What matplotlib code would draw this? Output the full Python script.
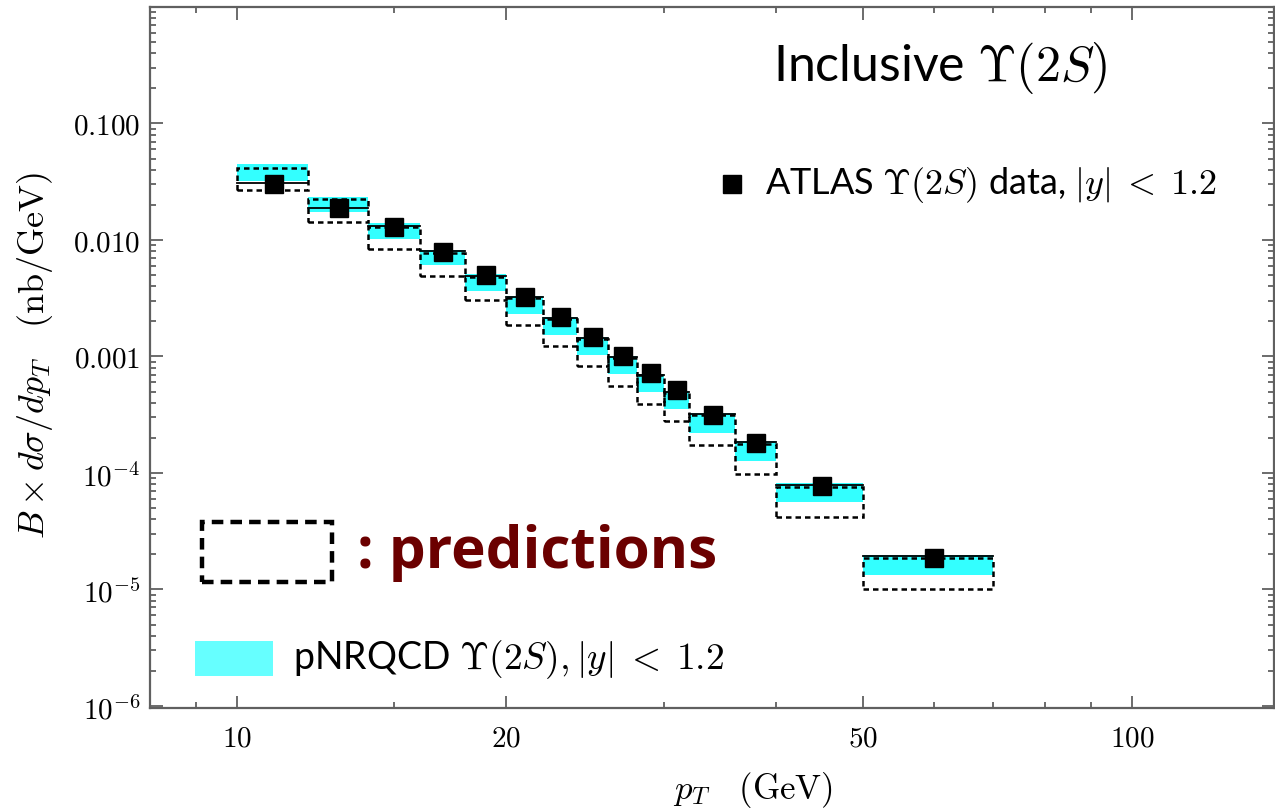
import matplotlib
matplotlib.use("Agg")
import matplotlib.pyplot as plt
from matplotlib.patches import Rectangle
from matplotlib.ticker import FixedLocator, FixedFormatter, LogLocator, NullFormatter

plt.rcParams["mathtext.fontset"] = "cm"
plt.rcParams["font.family"] = ["Lato", "DejaVu Sans"]

# pT bins (GeV)
pt_lo = [10, 12, 14, 16, 18, 20, 22, 24, 26, 28, 30, 32, 36, 40, 50]
pt_hi = [12, 14, 16, 18, 20, 22, 24, 26, 28, 30, 32, 36, 40, 50, 70]
pt_mid = [11, 13, 15, 17, 19, 21, 23, 25, 27, 29, 31, 34, 38, 45, 60]

# ATLAS Upsilon(2S) data, nb/GeV
atlas = [0.0303, 0.0190, 0.01285, 0.00796, 0.00501, 0.00324, 0.00217, 0.00148,
         0.00101, 0.00072, 0.000511, 0.000315, 0.000182, 7.78e-5, 1.85e-5]

# pNRQCD band (cyan)
band_hi = [0.0445, 0.0233, 0.01387, 0.00828, 0.00506, 0.00330, 0.00219, 0.001476,
           0.001014, 0.000714, 0.000504, 0.000324, 0.000188, 8.24e-5, 1.99e-5]
band_lo = [0.0320, 0.0173, 0.0101, 0.00604, 0.00363, 0.00230, 0.00152, 0.001026,
           0.000710, 0.000498, 0.000356, 0.000221, 0.000126, 5.66e-5, 1.33e-5]

# predictions (dashed boxes)
pred_hi = [0.0411, 0.0226, 0.0130, 0.00776, 0.00480, 0.00315, 0.00211, 0.00142,
           0.000975, 0.000687, 0.000484, 0.000312, 0.000179, 7.62e-5, 1.85e-5]
pred_lo = [0.0271, 0.0144, 0.0084, 0.00489, 0.00303, 0.00188, 0.00123, 0.000826,
           0.000556, 0.000393, 0.000279, 0.000173, 9.84e-5, 4.21e-5, 1.01e-5]
pred_mid = [0.0310, 0.0190, 0.0133, 0.0080, 0.00492, 0.00322, 0.00215, 0.00145,
            0.000995, 0.000700, 0.000494, 0.000318, 0.000184, 7.9e-5, 1.92e-5]

x_major = [10, 20, 50, 100]
x_minor = [9, 15, 30, 40, 60, 70, 80, 90]
y_major = [1e-6, 1e-5, 1e-4, 1e-3, 1e-2, 1e-1]
y_labels = [r"$10^{-6}$", r"$10^{-5}$", r"$10^{-4}$", r"$0.001$", r"$0.010$", r"$0.100$"]

CYAN = "#33ffff"
AX_GRAY = "#606060"

fig = plt.figure(figsize=(12.75, 8.12), dpi=100)
ax = fig.add_axes([150 / 1275, 1 - 709 / 812, 1124 / 1275, 701 / 812])
ax.set_xscale("log")
ax.set_yscale("log")
ax.set_xlim(8, 144)
ax.set_ylim(9.6e-7, 1.0)

for lo, hi, blo, bhi, plo, phi, pm in zip(pt_lo, pt_hi, band_lo, band_hi,
                                           pred_lo, pred_hi, pred_mid):
    ax.fill_between([lo, hi], blo, bhi, color=CYAN, lw=0, zorder=1)
    ax.plot([lo, hi], [pm, pm], color="black", lw=1.3, zorder=2)
    ax.add_patch(Rectangle((lo, plo), hi - lo, phi - plo, fill=False,
                           ec="black", lw=1.8, ls=(0, (2.2, 1.6)), zorder=3))

ax.plot(pt_mid, atlas, "s", color="black", ms=12.7, zorder=4)

# axes styling
ax.xaxis.set_major_locator(FixedLocator(x_major))
ax.xaxis.set_major_formatter(FixedFormatter([r"$%d$" % v for v in x_major]))
ax.xaxis.set_minor_locator(FixedLocator(x_minor))
ax.xaxis.set_minor_formatter(NullFormatter())
ax.yaxis.set_major_locator(FixedLocator(y_major))
ax.yaxis.set_major_formatter(FixedFormatter(y_labels))
ax.yaxis.set_minor_locator(LogLocator(base=10, subs=range(2, 10), numticks=20))
ax.yaxis.set_minor_formatter(NullFormatter())
ax.tick_params(which="both", direction="in", top=True, right=True,
               color=AX_GRAY, width=1.3, labelsize=21)
ax.tick_params(which="major", length=9)
ax.tick_params(which="minor", length=4.5)
ax.tick_params(axis="x", pad=12)
ax.tick_params(axis="y", pad=7)
for sp in ax.spines.values():
    sp.set_color(AX_GRAY)
    sp.set_linewidth(1.6)

ax.set_xlabel(r"$p_T \quad (\mathrm{GeV})$", fontsize=25)
ax.xaxis.label.set_va("center")
ax.xaxis.set_label_coords(0.5365, -0.1155)
ax.set_ylabel(r"$B \times d\sigma/dp_T \quad (\mathrm{nb}/\mathrm{GeV})$", fontsize=26)
ax.yaxis.label.set_va("center")
ax.yaxis.set_label_coords(-0.102, 0.505)

# annotations
ax.text(0.554, 0.914, r"Inclusive $\Upsilon(2S)$", transform=ax.transAxes,
        fontsize=36, ha="left", va="center")

ax.plot([0.5178], [0.7475], "s", color="black", ms=12.7, transform=ax.transAxes,
        clip_on=False)
ax.text(0.547, 0.7475, r"ATLAS $\Upsilon(2S)$ data, $|y|\;<\;1.2$", transform=ax.transAxes,
        fontsize=26, ha="left", va="center")

ax.add_patch(Rectangle((0.0463, 0.1797), 0.1157, 0.0856, transform=ax.transAxes,
                       fill=False, ec="black", lw=3.2, ls=(0, (2.6, 1.6))))
ax.text(0.184, 0.2225, ": predictions", transform=ax.transAxes, fontsize=42,
        fontweight="bold", family=["Open Sans", "DejaVu Sans"],
        color="#6b0000", ha="left", va="center")

ax.add_patch(Rectangle((0.0401, 0.0456), 0.0694, 0.0499, transform=ax.transAxes,
                       color="#66ffff", lw=0))
ax.text(0.1272, 0.0699, r"pNRQCD $\Upsilon(2S), |y|\;<\;1.2$", transform=ax.transAxes,
        fontsize=27, ha="left", va="center")

fig.savefig("out.png", dpi=100)
